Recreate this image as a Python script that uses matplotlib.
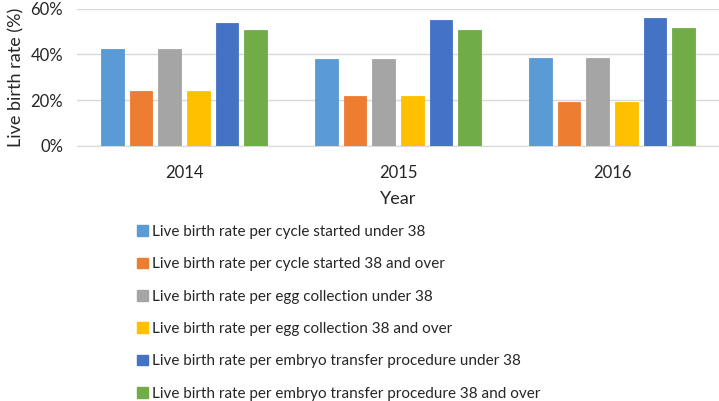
import numpy as np
import matplotlib.pyplot as plt
from matplotlib.patches import Patch
from matplotlib.ticker import PercentFormatter

plt.rcParams['font.family'] = ['Lato', 'DejaVu Sans']

years = ['2014', '2015', '2016']
series = [
    'Live birth rate per cycle started under 38',
    'Live birth rate per cycle started 38 and over',
    'Live birth rate per egg collection under 38',
    'Live birth rate per egg collection 38 and over',
    'Live birth rate per embryo transfer procedure under 38',
    'Live birth rate per embryo transfer procedure 38 and over',
]
cycle_under38 = [42.2, 37.9, 38.6]
cycle_38over = [24.2, 21.8, 19.1]
egg_under38 = [42.2, 37.9, 38.6]
egg_38over = [24.2, 21.8, 19.1]
transfer_under38 = [53.9, 55.1, 56.1]
transfer_38over = [50.6, 50.9, 51.4]
values = [cycle_under38, cycle_38over, egg_under38, egg_38over,
          transfer_under38, transfer_38over]
colors = ['#5B9BD5', '#ED7D31', '#A5A5A5', '#FFC000', '#4472C4', '#70AD47']

fig = plt.figure(figsize=(7.19, 4.01), dpi=100)
ax = fig.add_axes([77 / 719, 1 - 146 / 401, 642 / 719, (146 - 8.7) / 401])

x = np.arange(len(years))
pitch = 0.1336
width = 0.105
for i, (vals, c) in enumerate(zip(values, colors)):
    ax.bar(x + (i - 2.5) * pitch, vals, width, color=c, edgecolor=c,
           linewidth=0.6, zorder=3)

ax.set_xlim(-0.5, 2.5)
ax.set_ylim(0, 60)
ax.set_yticks([0, 20, 40, 60])
ax.yaxis.set_major_formatter(PercentFormatter(decimals=0))
ax.set_xticks(x)
ax.set_xticklabels(years)
ax.grid(axis='y', color='#d9d9d9', linewidth=1, zorder=0)
for s in ['top', 'right', 'left']:
    ax.spines[s].set_visible(False)
ax.spines['bottom'].set_color('#d9d9d9')
ax.tick_params(length=0, labelsize=12, colors='#262626')
ax.tick_params(axis='y', pad=10)
ax.tick_params(axis='x', pad=14)
ax.set_xlabel('Year', fontsize=13, color='#262626', labelpad=7)
ax.set_ylabel('Live birth rate (%)', fontsize=13, color='#262626', labelpad=4)

handles = [Patch(facecolor=c, edgecolor=c) for c in colors]
fig.legend(handles, series, loc='upper left', bbox_to_anchor=(137 / 719, 1 - 225 / 401),
           frameon=False, fontsize=11, handlelength=0.7, handleheight=0.7,
           handletextpad=0.25, labelspacing=1.2, borderpad=0, borderaxespad=0,
           labelcolor='#262626')

fig.savefig('out.png', dpi=100)
